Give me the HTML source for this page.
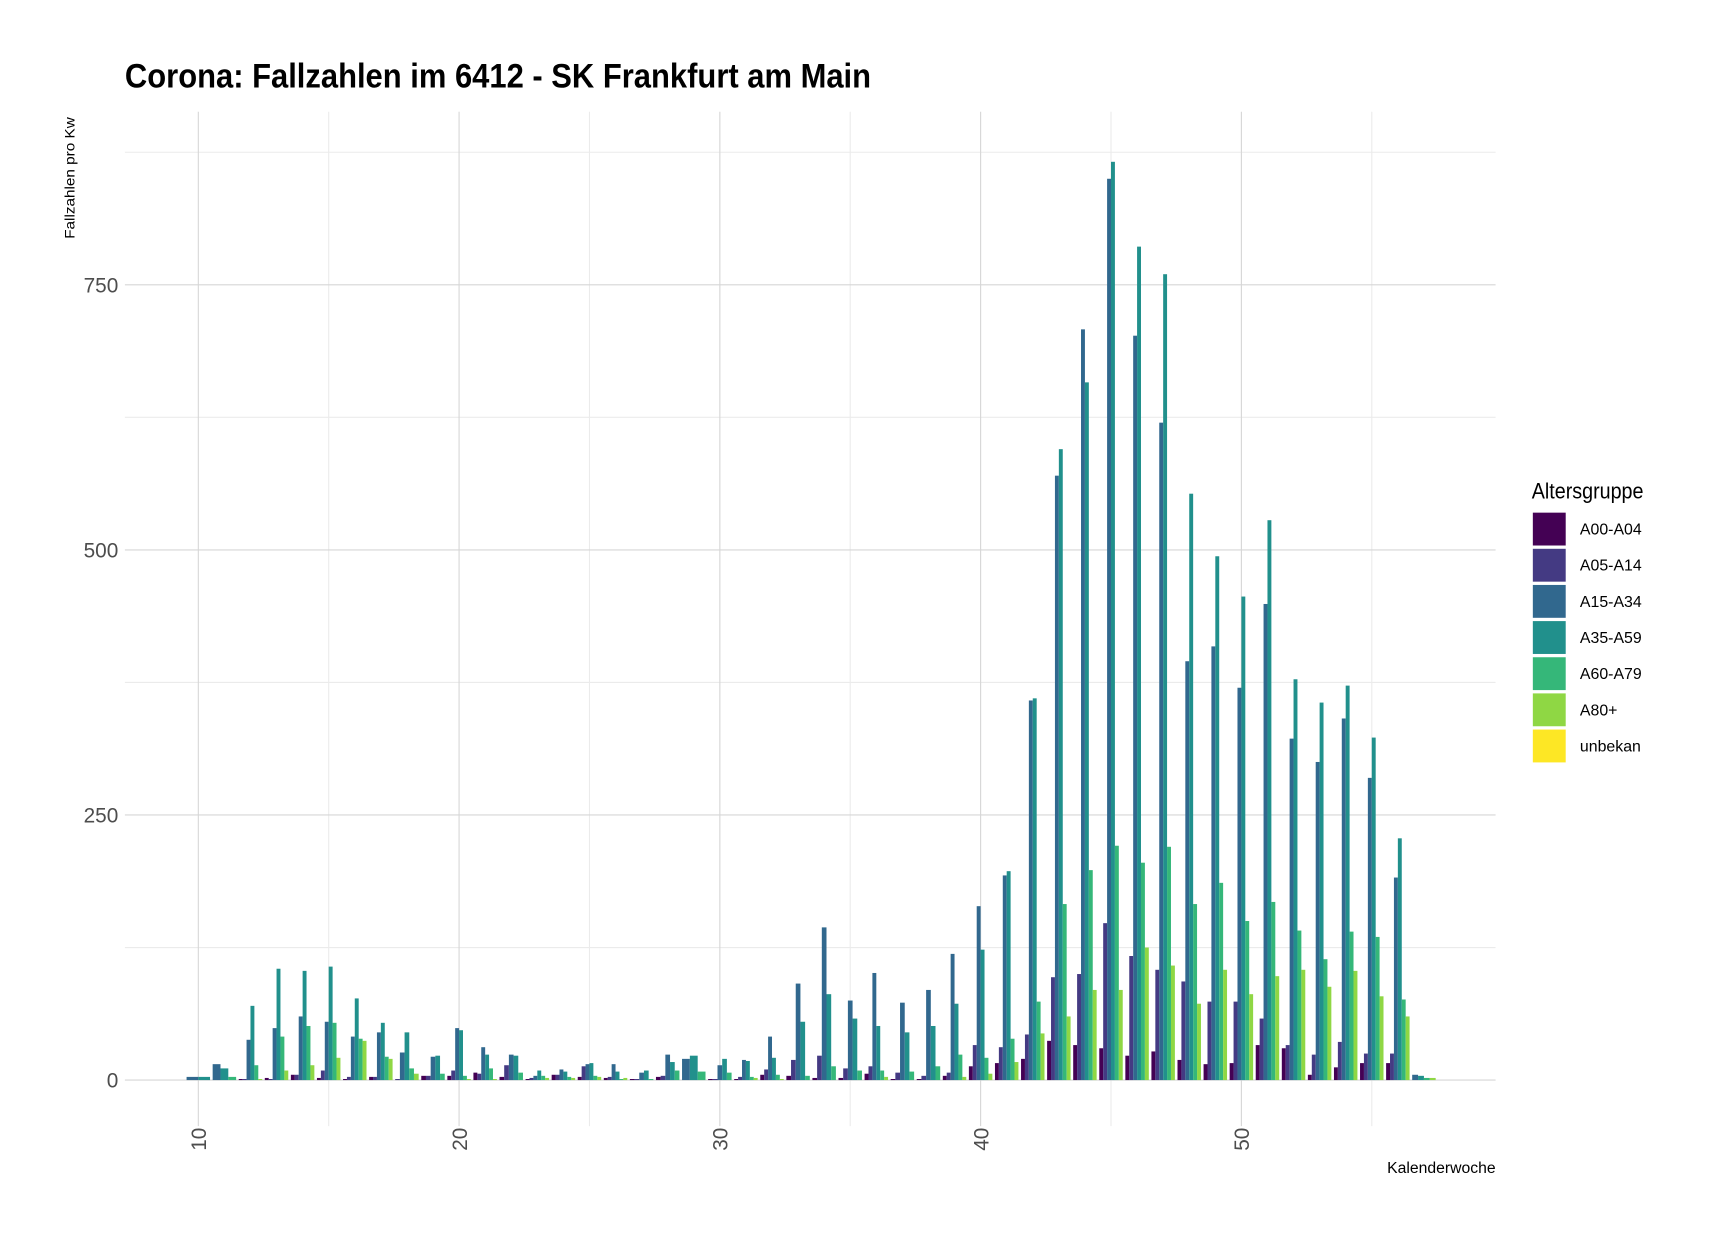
<!DOCTYPE html>
<html><head><meta charset="utf-8"><style>
html,body{margin:0;padding:0;background:#fff;}
svg{display:block;}
text{font-family:"Liberation Sans Narrow","Liberation Sans",sans-serif;}
</style></head><body>
<svg id="s" width="1718" height="1240" viewBox="0 0 1568 1132" preserveAspectRatio="none" xmlns="http://www.w3.org/2000/svg">
<rect width="1568" height="1132" fill="#fff"/>
<g id="grid"></g>
<g id="bars"></g>
<text x="114" y="80" font-size="31" font-weight="bold" fill="#000" textLength="681" lengthAdjust="spacingAndGlyphs">Corona: Fallzahlen im 6412 - SK Frankfurt am Main</text>
<text transform="translate(68,218) rotate(-90)" font-size="13" fill="#000" textLength="111" lengthAdjust="spacingAndGlyphs">Fallzahlen pro Kw</text>
<text x="1365" y="1071" font-size="14" text-anchor="end" fill="#000" textLength="99" lengthAdjust="spacingAndGlyphs">Kalenderwoche</text>
<g id="ticks" fill="#4d4d4d" font-size="19"></g>
<g id="legend"></g>
</svg>
<script>
var NS="http://www.w3.org/2000/svg";
function el(p,t,a,txt){var e=document.createElementNS(NS,t);for(var k in a)e.setAttribute(k,a[k]);if(txt!==undefined)e.textContent=txt;p.appendChild(e);return e;}
var cols=["#440154","#443A83","#31688E","#21908C","#35B779","#8FD744","#FDE725"];
var x0=114,x1=1365,yt=102,yb=1028;
function X(k){return 181+(k-10)*23.8;}
function Y(v){return 986-v*0.968;}
var g=document.getElementById("grid");
[125,375,625,875].forEach(function(v){el(g,"line",{x1:x0,x2:x1,y1:Y(v),y2:Y(v),stroke:"#ebebeb","stroke-width":1});});
[15,25,35,45,55].forEach(function(k){el(g,"line",{x1:X(k),x2:X(k),y1:yt,y2:yb,stroke:"#ebebeb","stroke-width":1});});
[0,250,500,750].forEach(function(v){el(g,"line",{x1:x0,x2:x1,y1:Y(v),y2:Y(v),stroke:"#d6d6d6","stroke-width":1});});
[10,20,30,40,50].forEach(function(k){el(g,"line",{x1:X(k),x2:X(k),y1:yt,y2:yb,stroke:"#d6d6d6","stroke-width":1});});
var N=null;
var d={
10:[N,N,3,3,N,N,N],
11:[N,N,15,11,3,N,N],
12:[1,1,38,70,14,1,N],
13:[2,1,49,105,41,9,N],
14:[5,5,60,103,51,14,N],
15:[2,9,55,107,54,21,N],
16:[1,3,41,77,39,37,N],
17:[3,3,45,54,22,20,N],
18:[N,1,26,45,11,6,N],
19:[4,4,22,23,6,N,N],
20:[4,9,49,47,4,1,N],
21:[7,6,31,24,11,1,N],
22:[3,14,24,23,7,N,N],
23:[1,2,4,9,4,2,N],
24:[5,5,10,8,3,2,N],
25:[3,13,15,16,4,3,N],
26:[2,3,15,8,1,2,N],
27:[1,1,7,9,1,N,N],
28:[3,4,24,17,9,N,N],
29:[N,N,20,23,8,N,N],
30:[1,1,14,20,7,N,N],
31:[1,3,19,18,3,2,N],
32:[5,10,41,21,5,1,N],
33:[4,19,91,55,4,N,N],
34:[2,23,144,81,13,N,N],
35:[2,11,75,58,9,N,N],
36:[6,13,101,51,9,3,N],
37:[1,7,73,45,8,N,N],
38:[1,4,85,51,13,N,N],
39:[4,7,119,72,24,3,N],
40:[13,33,164,123,21,6,N],
41:[16,31,193,197,39,17,N],
42:[20,43,358,360,74,44,N],
43:[37,97,570,595,166,60,N],
44:[33,100,708,658,198,85,N],
45:[30,148,850,866,221,85,N],
46:[23,117,702,786,205,125,N],
47:[27,104,620,760,220,108,N],
48:[19,93,395,553,166,72,N],
49:[15,74,409,494,186,104,N],
50:[16,74,370,456,150,81,N],
51:[33,58,449,528,168,98,N],
52:[30,33,322,378,141,104,N],
53:[5,24,300,356,114,88,N],
54:[12,36,341,372,140,103,N],
55:[16,25,285,323,135,79,N],
56:[16,25,191,228,76,60,N],
57:[N,N,5,4,2,2,N]};
var b=document.getElementById("bars");
for(var k in d){var arr=d[k],idx=[];arr.forEach(function(v,i){if(v!==null)idx.push(i);});
 var w=21.42/idx.length,l=X(+k)-10.71;
 idx.forEach(function(i,j){var v=arr[i];el(b,"rect",{x:(l+j*w).toFixed(2),y:Y(v).toFixed(2),width:w.toFixed(2),height:(v*0.968).toFixed(2),fill:cols[i]});});}
var t=document.getElementById("ticks");
[[0,986],[250,744],[500,502],[750,260]].forEach(function(p){el(t,"text",{x:108,y:p[1]+7,"text-anchor":"end"},String(p[0]));});
[10,20,30,40,50].forEach(function(k){el(t,"text",{transform:"translate("+(X(k)+7)+",1040) rotate(-90)","text-anchor":"middle"},String(k));});
var lg=document.getElementById("legend");
el(lg,"text",{x:1398,y:455,"font-size":20,fill:"#000",textLength:102,lengthAdjust:"spacingAndGlyphs"},"Altersgruppe");
var labs=["A00-A04","A05-A14","A15-A34","A35-A59","A60-A79","A80+","unbekan"];
labs.forEach(function(s,i){var y=468+i*33;el(lg,"rect",{x:1399,y:y,width:30,height:30,fill:cols[i]});
 el(lg,"text",{x:1442,y:y+20,"font-size":14.5,fill:"#000"},s);});
</script>
</body></html>
